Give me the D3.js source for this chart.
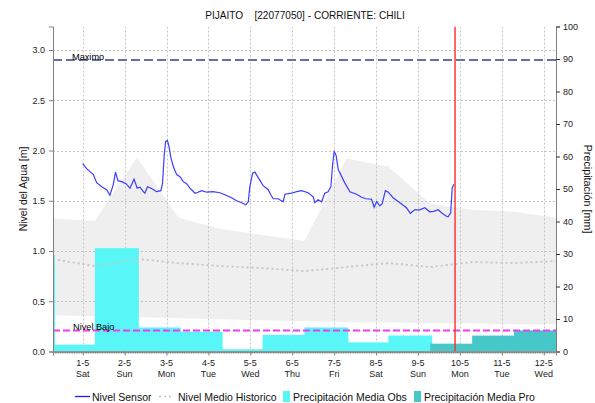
<!DOCTYPE html>
<html><head><meta charset="utf-8">
<script src="https://cdn.jsdelivr.net/npm/d3@7"></script>
<style>
html,body{margin:0;padding:0;background:#fff;}
svg{display:block;font-family:"Liberation Sans",Arial,sans-serif;}
</style></head>
<body><svg id="c" width="595" height="403"></svg>
<script>
// ---------- DATA ----------
const titleText = "PIJAITO    [22077050] - CORRIENTE: CHILI";
const tickDates = ["2021-05-01","2021-05-02","2021-05-03","2021-05-04","2021-05-05","2021-05-06","2021-05-07","2021-05-08","2021-05-09","2021-05-10","2021-05-11","2021-05-12"];
const tickDay = ["1-5","2-5","3-5","4-5","5-5","6-5","7-5","8-5","9-5","10-5","11-5","12-5"];
const tickWeekday = ["Sat","Sun","Mon","Tue","Wed","Thu","Fri","Sat","Sun","Mon","Tue","Wed"];
const levelTicks = [0.0,0.5,1.0,1.5,2.0,2.5,3.0];
const precipTicks = [0,10,20,30,40,50,60,70,80,90,100];

// sensor level: hours after 2021-05-01 00:00 and level [m]
const sensorHours = [0,2.3,4.2,6.1,8.0,10.9,13.7,15.6,17.5,18.8,20.2,22.3,24.8,27.1,29.4,31.2,32.8,34.7,35.6,37.1,39.7,42.3,44.8,45.7,46.7,47.5,48.5,49.4,50.5,51.9,53.8,55.7,57.6,59.5,61.4,64.3,66.0,68.1,71.0,74.6,78.6,81.4,85.3,88.1,91.0,93.4,94.8,95.7,97.3,98.6,100.5,103.3,106.2,107.7,109.1,111.9,114.8,115.8,119.6,122.5,125.3,129.1,132.0,132.9,134.8,136.8,138.6,140.5,142.1,143.2,144.0,145.1,146.3,148.2,150.1,153.0,156.8,159.7,162.1,165.4,166.9,168.3,170.1,171.5,173.3,175.0,177.7,181.6,185.4,187.6,190.1,193.0,195.9,198.7,201.0,203.5,205.4,208.3,209.2,210.7,211.6,212.6];
const sensorLevel = [1.87,1.82,1.79,1.76,1.68,1.64,1.61,1.555,1.66,1.785,1.70,1.69,1.67,1.625,1.715,1.625,1.635,1.59,1.575,1.64,1.62,1.59,1.60,1.675,1.96,2.09,2.10,2.04,1.93,1.84,1.76,1.74,1.69,1.67,1.625,1.575,1.585,1.60,1.585,1.59,1.58,1.56,1.53,1.50,1.48,1.46,1.49,1.64,1.775,1.785,1.73,1.65,1.61,1.56,1.52,1.52,1.49,1.565,1.575,1.59,1.60,1.58,1.54,1.48,1.51,1.49,1.575,1.59,1.64,1.88,1.99,1.95,1.81,1.745,1.675,1.59,1.565,1.535,1.52,1.515,1.435,1.49,1.45,1.47,1.60,1.585,1.53,1.48,1.43,1.375,1.41,1.41,1.43,1.39,1.395,1.41,1.38,1.345,1.34,1.38,1.63,1.665];

// historical band and median, daily at 07:00
const histDates = ["2021-04-30","2021-05-01","2021-05-02","2021-05-03","2021-05-04","2021-05-05","2021-05-06","2021-05-07","2021-05-08","2021-05-09","2021-05-10","2021-05-11","2021-05-12"];
const histMax = [1.32,1.30,1.93,1.33,1.22,1.16,1.10,1.92,1.84,1.47,1.41,1.39,1.33];
const histMin = [0.36,0.35,0.34,0.33,0.32,0.31,0.30,0.29,0.29,0.28,0.28,0.27,0.27];
const histMedian = [0.92,0.85,0.92,0.88,0.85,0.83,0.80,0.84,0.88,0.84,0.89,0.88,0.90];

// precipitation [mm], day from 07:00 to next day 07:00
const obsDates = ["2021-04-29","2021-04-30","2021-05-01","2021-05-02","2021-05-03","2021-05-04","2021-05-05","2021-05-06","2021-05-07","2021-05-08"];
const obsPrecip = [29.7,2.1,31.8,7.4,6.1,0.7,5.1,7.4,2.8,4.9];
const proDates = ["2021-05-09","2021-05-10","2021-05-11"];
const proPrecip = [2.4,4.9,6.5];

const levelMax = 2.9, levelLow = 0.21;
const nowTime = "2021-05-09T21:12:00Z";
const legendLabels = ["Nivel Sensor","Nivel Medio Historico","Precipitación Media Obs","Precipitación Media Pro"];

// ---------- CHART ----------
const svg = d3.select("#c");
const L=53, R=556, T=26.5, B=351.5;
const FONT = "Liberation Sans, Arial, sans-serif";
const d07 = s => new Date(s+"T07:00:00Z");
const x = d3.scaleUtc().domain([d07("2021-04-30"), d07("2021-05-12")]).range([L,R]);
const y = d3.scaleLinear().domain([0,(B-T)/100.5]).range([B,T]);
const yp = d3.scaleLinear().domain([0,100]).range([B,T]);
const base = new Date("2021-05-01T00:00:00Z");
const hToDate = h => new Date(base.getTime()+h*3600e3);

svg.append("defs").append("clipPath").attr("id","clip")
  .append("rect").attr("x",L).attr("y",T).attr("width",R-L).attr("height",B-T);
const plot = svg.append("g").attr("clip-path","url(#clip)");

// historical band
const band = histDates.map((d,i)=>({t:d07(d),hi:histMax[i],lo:histMin[i],md:histMedian[i]}));
plot.append("path").datum(band)
  .attr("d", d3.area().x(d=>x(d.t)).y0(d=>y(d.lo)).y1(d=>y(d.hi)))
  .attr("fill","#efefef");

// grid
const gridG = plot.append("g").attr("stroke","#c4c4c4").attr("stroke-dasharray","2,2").attr("stroke-width",1);
levelTicks.filter(v=>v>0).forEach(v=>{
  gridG.append("line").attr("x1",L).attr("x2",R).attr("y1",Math.round(y(v))+0.5).attr("y2",Math.round(y(v))+0.5);
});
tickDates.forEach(d=>{
  const xx = Math.round(x(new Date(d+"T00:00:00Z")))+0.5;
  gridG.append("line").attr("x1",xx).attr("x2",xx).attr("y1",T).attr("y2",B);
});

// precipitation bars
function bars(dates, vals, color){
  plot.append("g").selectAll("rect").data(dates.map((d,i)=>({s:d07(d),v:vals[i]})))
    .join("rect")
    .attr("x", d=>x(d.s))
    .attr("width", d=>x(new Date(d.s.getTime()+864e5))-x(d.s)+2)
    .attr("y", d=>yp(d.v))
    .attr("height", d=>B-yp(d.v))
    .attr("fill", color);
}
bars(obsDates, obsPrecip, "#58f6f6");
bars(proDates, proPrecip, "#46c8c8");

// median
plot.append("path").datum(band)
  .attr("d", d3.line().x(d=>x(d.t)).y(d=>y(d.md)))
  .attr("fill","none").attr("stroke","#c4c4c4").attr("stroke-width",1.8).attr("stroke-dasharray","2,3");

// thresholds
plot.append("line").attr("x1",L).attr("x2",R).attr("y1",y(levelMax)).attr("y2",y(levelMax))
  .attr("stroke","#6272a2").attr("stroke-width",2).attr("stroke-dasharray","9,4");
plot.append("line").attr("x1",L).attr("x2",R).attr("y1",y(levelLow)).attr("y2",y(levelLow))
  .attr("stroke","#f03cf0").attr("stroke-width",2).attr("stroke-dasharray","7,3");
svg.append("text").attr("x",72).attr("y",y(levelMax)-0.5).attr("font-size",9.2).attr("fill","#000").text("Maximo");
svg.append("text").attr("x",73).attr("y",y(levelLow)-0.8).attr("font-size",9.2).attr("fill","#000").text("Nivel Bajo");

// sensor
plot.append("path").datum(sensorHours.map((h,i)=>[hToDate(h),sensorLevel[i]]))
  .attr("d", d3.line().x(d=>x(d[0])).y(d=>y(d[1])))
  .attr("fill","none").attr("stroke","#3d3dff").attr("stroke-width",1.2);

// now line
const nx = x(new Date(nowTime));
plot.append("line").attr("x1",nx).attr("x2",nx).attr("y1",T).attr("y2",B).attr("stroke","#ff2a2a").attr("stroke-width",1.4);

// axes
const axisColor = "#808080";
const gL = svg.append("g").attr("transform",`translate(${L},0)`)
  .call(d3.axisLeft(y).tickValues(levelTicks).tickFormat(d3.format(".1f")).tickSize(4).tickPadding(4));
const gR = svg.append("g").attr("transform",`translate(${R},0)`)
  .call(d3.axisRight(yp).tickValues(precipTicks).tickFormat(d3.format("d")).tickSize(4).tickPadding(3));
const gBm = svg.append("g").attr("transform",`translate(0,${B})`)
  .call(d3.axisBottom(x).ticks(d3.utcHour.every(1)).tickFormat("").tickSize(2));
const gB = svg.append("g").attr("transform",`translate(0,${B})`)
  .call(d3.axisBottom(x).tickValues(tickDates.map(d=>new Date(d+"T00:00:00Z"))).tickFormat("").tickSize(4));
[gL,gR,gBm,gB].forEach(g=>{
  g.select(".domain").attr("stroke",axisColor);
  g.selectAll(".tick line").attr("stroke",axisColor);
  g.selectAll("text").attr("font-size",9).attr("fill","#222").attr("font-family",FONT);
});
gR.selectAll(".tick line").attr("stroke","#333");
// x labels
const xl = svg.append("g").attr("font-size",9).attr("fill","#222").attr("text-anchor","middle").attr("font-family",FONT);
tickDates.forEach((d,i)=>{
  const xx = x(new Date(d+"T00:00:00Z"));
  xl.append("text").attr("x",xx).attr("y",366).text(tickDay[i]);
  xl.append("text").attr("x",xx).attr("y",376.5).text(tickWeekday[i]);
});

// title & axis titles
svg.append("text").attr("x",305).attr("y",19).attr("text-anchor","middle").attr("font-size",10.1)
  .style("white-space","pre").attr("fill","#111").text(titleText);
svg.append("text").attr("transform",`translate(26.5,${(T+B)/2}) rotate(-90)`).attr("text-anchor","middle")
  .attr("font-size",10.5).attr("fill","#111").text("Nivel del Agua [m]");
svg.append("text").attr("transform",`translate(583.5,${(T+B)/2}) rotate(90)`).attr("text-anchor","middle")
  .attr("font-size",10.8).attr("fill","#111").text("Precipitación [mm]");

// legend
const lg = svg.append("g").attr("font-size",10.5).attr("fill","#111").attr("font-family",FONT);
const ly = 396.5;
lg.append("line").attr("x1",75).attr("x2",90).attr("y1",ly).attr("y2",ly).attr("stroke","#2020ee").attr("stroke-width",1.3);
lg.append("text").attr("x",92).attr("y",ly+4).text(legendLabels[0]);
lg.append("line").attr("x1",159).attr("x2",174).attr("y1",ly).attr("y2",ly).attr("stroke","#c0c0c0").attr("stroke-width",1.5).attr("stroke-dasharray","2,3");
lg.append("text").attr("x",178).attr("y",ly+4).text(legendLabels[1]);
lg.append("rect").attr("x",283).attr("y",ly-5.5).attr("width",7).attr("height",11).attr("fill","#58f6f6");
lg.append("text").attr("x",293).attr("y",ly+4).text(legendLabels[2]);
lg.append("rect").attr("x",414).attr("y",ly-5.5).attr("width",7).attr("height",11).attr("fill","#46c8c8");
lg.append("text").attr("x",424).attr("y",ly+4).text(legendLabels[3]);
</script></body></html>
